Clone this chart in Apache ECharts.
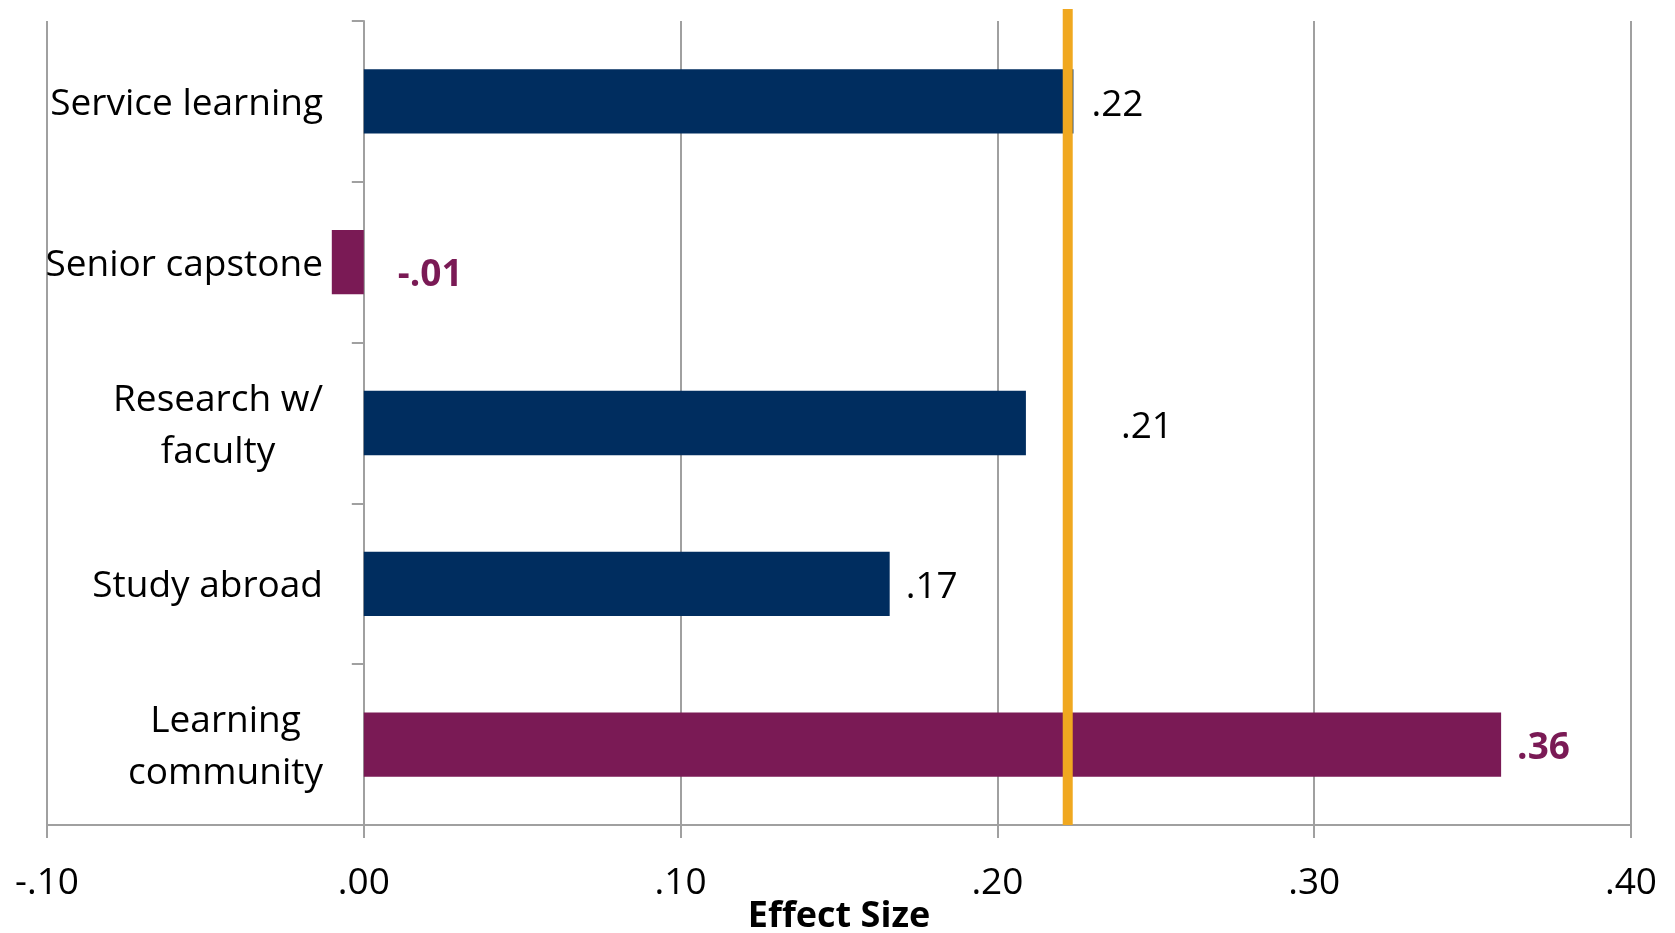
<!DOCTYPE html>
<html>
<head>
<meta charset="utf-8">
<script src="https://cdn.jsdelivr.net/npm/echarts@6/dist/echarts.min.js"></script>
<style>
html,body{margin:0;padding:0;background:#fff;}
#chart{width:1675px;height:933px;}
</style>
</head>
<body>
<div id="chart"></div>
<script>
// ---- data ----
const categories = ['Service learning', 'Senior capstone', 'Research w/\nfaculty', 'Study abroad', 'Learning\ncommunity'];
const effectSizes = [0.224, -0.0101, 0.209, 0.166, 0.359];
const highlighted = [false, true, false, false, true];
const averageEffect = 0.2222;
const axisMin = -0.10;
const axisMax = 0.40;
const axisStep = 0.10;
const axisTitle = 'Effect Size';

// ---- style ----
const FONT = 'Open Sans';
const NAVY = '#002d5f';
const PURPLE = '#7a1a55';
const ORANGE = '#f0a820';
const GRID = '#a0a0a0';
const labelTweaks = [
  {distance: 18, offset: [0, 4]},
  {distance: 34, offset: [0, 13]},
  {distance: 95, offset: [0, 4]},
  {distance: 16, offset: [0, 4]},
  {distance: 16, offset: [0, 4]}
];

function fmt(v) {
  let s = (+v).toFixed(2);
  return s.replace('0.', '.');
}

const barData = effectSizes.map((v, i) => ({
  value: v,
  itemStyle: {color: highlighted[i] ? PURPLE : NAVY},
  label: Object.assign({
    show: true,
    position: 'right',
    formatter: p => fmt(p.value),
    fontFamily: FONT,
    fontSize: 37,
    color: highlighted[i] ? PURPLE : '#000',
    fontWeight: highlighted[i] ? 'bold' : 'normal'
  }, labelTweaks[i])
}));

const gridPos = {left: 47, right: 44, bottom: 108, containLabel: false, outerBoundsMode: 'none'};

const chart = echarts.init(document.getElementById('chart'));
chart.setOption({
  animation: false,
  backgroundColor: '#fff',
  grid: [
    Object.assign({top: 21}, gridPos),
    Object.assign({top: 9}, gridPos)
  ],
  xAxis: [{
    type: 'value',
    gridIndex: 0,
    min: axisMin,
    max: axisMax,
    interval: axisStep,
    name: axisTitle,
    nameLocation: 'middle',
    nameGap: 92,
    nameMoveOverlap: false,
    nameTextStyle: {fontFamily: FONT, fontSize: 36, fontWeight: 'bold', color: '#000', verticalAlign: 'middle'},
    axisLine: {show: true, lineStyle: {color: GRID, width: 2}},
    axisTick: {show: true, length: 13, lineStyle: {color: GRID, width: 2}},
    axisLabel: {
      fontFamily: FONT, fontSize: 37, color: '#000', margin: 40,
      formatter: v => fmt(v)
    },
    splitLine: {show: true, lineStyle: {color: GRID, width: 2}}
  }, {
    type: 'value',
    gridIndex: 1,
    min: axisMin,
    max: axisMax,
    show: false
  }],
  yAxis: [{
    type: 'category',
    gridIndex: 0,
    data: categories,
    inverse: true,
    axisLine: {show: true, onZero: true, lineStyle: {color: GRID, width: 2}},
    axisTick: {show: true, length: 12, lineStyle: {color: GRID, width: 2}},
    axisLabel: {
      margin: -276,
      align: 'right',
      padding: [6, 0, 0, 0],
      formatter: v => v.split('\n').map(l => '{c|' + l + '}').join('\n'),
      rich: {
        c: {align: 'center', fontFamily: FONT, fontSize: 37, color: '#000', lineHeight: 52}
      }
    },
    splitLine: {show: false}
  }, {
    type: 'value',
    gridIndex: 1,
    min: 0,
    max: 1,
    show: false
  }],
  series: [{
    type: 'bar',
    xAxisIndex: 0,
    yAxisIndex: 0,
    barWidth: '40%',
    data: barData,
    z: 2
  }, {
    type: 'line',
    xAxisIndex: 1,
    yAxisIndex: 1,
    data: [[averageEffect, 0], [averageEffect, 1]],
    symbol: 'none',
    silent: true,
    lineStyle: {color: ORANGE, width: 10},
    z: 5
  }]
});
</script>
</body>
</html>
